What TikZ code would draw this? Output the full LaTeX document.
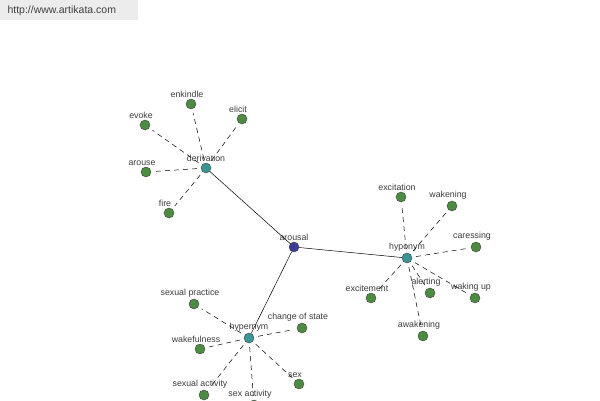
\documentclass[tikz,border=0pt]{standalone}
\usepackage{fontspec}
\setmainfont{Liberation Sans}
\usetikzlibrary{positioning}
\definecolor{leafcol}{RGB}{76,140,64}
\definecolor{hubcol}{RGB}{58,150,150}
\definecolor{rootcol}{RGB}{60,60,150}
\definecolor{labelcol}{RGB}{60,60,60}
\definecolor{markcol}{RGB}{236,236,236}

\begin{document}
\begin{tikzpicture}[
  x=1pt, y=-1pt,
  every node/.style={font=\fontsize{8.8}{10}\selectfont, text=labelcol},
  dot/.style={circle, draw=black!75, minimum size=10pt, inner sep=0pt},
  leaf/.style={dot, fill=leafcol,
    label={[inner sep=0.5pt, label distance=1pt, xshift=-4pt]above:#1}},
  hub/.style={dot, fill=hubcol,
    label={[inner sep=0.5pt, label distance=1pt]above:#1}},
  root/.style={hub=#1, fill=rootcol},
  link/.style={black, line width=0.5pt},
  rel/.style={black, line width=0.5pt, dash pattern=on 5pt off 4pt, shorten <=4pt, shorten >=4pt},
]
  \useasboundingbox (0,0) rectangle (600,400);
  % watermark
  \fill[markcol] (0,0) rectangle (138,20);
  \node[anchor=west, font=\fontsize{10.5}{12}\selectfont, text=black!75] (site) at (4,11) {http://www.artikata.com};
  % centre and relation hubs
  \node[root=arousal] (arousal) at (294,247) {};
  \node[hub=derivation] (deriv) at (206,168) {};
  \node[hub=hyponym] (hypo) at (407,258) {};
  \node[hub=hypernym] (hyper) at (249,338) {};
  % derivation
  \node[leaf=enkindle] (enkindle) at (191,104) {};
  \node[leaf=elicit] (elicit) at (242,119) {};
  \node[leaf=evoke] (evoke) at (145,125) {};
  \node[leaf=arouse] (arouse) at (146,172) {};
  \node[leaf=fire] (fire) at (169,213) {};
  % hyponym
  \node[leaf=excitation] (excitation) at (401,197) {};
  \node[leaf=wakening] (wakening) at (452,206) {};
  \node[leaf=caressing] (caressing) at (476,247) {};
  \node[leaf=excitement] (excitement) at (371,298) {};
  \node[leaf=alerting] (alerting) at (430,293) {};
  \node[leaf=waking up] (wakingup) at (475,298) {};
  \node[leaf=awakening] (awakening) at (423,336) {};
  % hypernym
  \node[leaf=sexual practice] (sexpractice) at (194,304) {};
  \node[leaf=change of state] (changestate) at (302,328) {};
  \node[leaf=wakefulness] (wakefulness) at (200,349) {};
  \node[leaf=sexual activity] (sexualact) at (204,395) {};
  \node[leaf=sex activity] (sexact) at (254,405) {};
  \node[leaf=sex] (sex) at (299,384) {};
  % links
  \draw[link] (arousal) -- (deriv);
  \draw[link] (arousal) -- (hypo);
  \draw[link] (arousal) -- (hyper);
  \draw[rel] (deriv) -- (enkindle);
  \draw[rel] (deriv) -- (elicit);
  \draw[rel] (deriv) -- (evoke);
  \draw[rel] (deriv) -- (arouse);
  \draw[rel] (deriv) -- (fire);
  \draw[rel] (hypo) -- (excitation);
  \draw[rel] (hypo) -- (wakening);
  \draw[rel] (hypo) -- (caressing);
  \draw[rel] (hypo) -- (excitement);
  \draw[rel] (hypo) -- (alerting);
  \draw[rel] (hypo) -- (wakingup);
  \draw[rel] (hypo) -- (awakening);
  \draw[rel] (hyper) -- (sexpractice);
  \draw[rel] (hyper) -- (changestate);
  \draw[rel] (hyper) -- (wakefulness);
  \draw[rel] (hyper) -- (sexualact);
  \draw[rel] (hyper) -- (sexact);
  \draw[rel] (hyper) -- (sex);
\end{tikzpicture}
\end{document}
